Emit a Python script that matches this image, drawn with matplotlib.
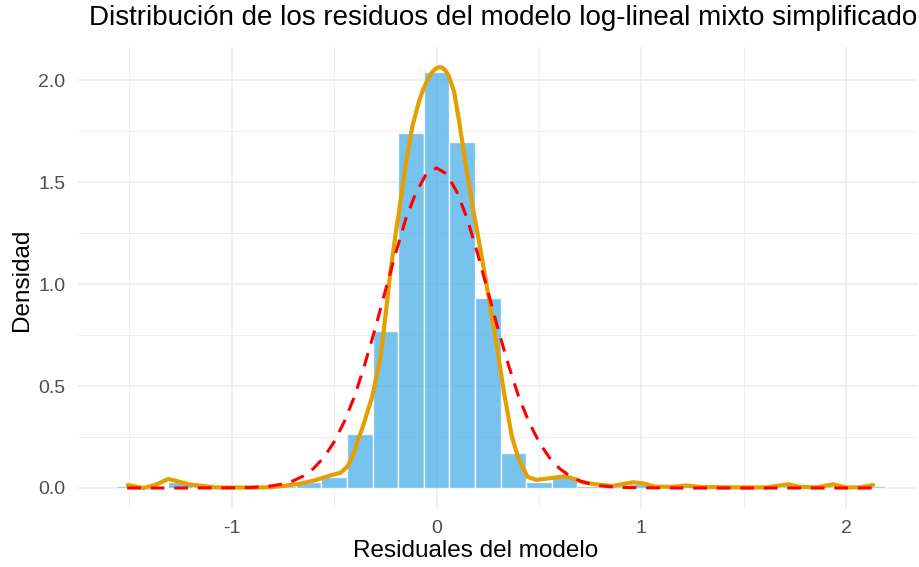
import matplotlib
matplotlib.use("Agg")
import matplotlib.pyplot as plt

plt.rcParams['font.family'] = ['Liberation Sans', 'DejaVu Sans']

# histogram (density), binwidth 0.125
bin_centers = [-1.5, -1.375, -1.25, -1.125, -1.0, -0.875, -0.75, -0.625, -0.5, -0.375,
               -0.25, -0.125, 0.0, 0.125, 0.25, 0.375, 0.5, 0.625, 0.75, 0.875,
               1.0, 1.125, 1.25, 1.375, 1.5, 1.625, 1.75, 1.875, 2.0, 2.125]
bin_density = [0.01, 0.0, 0.03, 0.01, 0.0, 0.0, 0.01, 0.03, 0.053, 0.266,
               0.77, 1.742, 2.04, 1.696, 0.93, 0.173, 0.031, 0.055, 0.01, 0.01,
               0.02, 0.0, 0.01, 0.0, 0.0, 0.0, 0.01, 0.01, 0.01, 0.01]
bin_width = 0.125

# kernel density
kde_x = [-1.507, -1.43, -1.373, -1.31, -1.267, -1.21, -1.145, -1.08, -0.95, -0.82,
         -0.74, -0.66, -0.59, -0.51, -0.468, -0.436, -0.41, -0.385, -0.36, -0.314,
         -0.273, -0.248, -0.224, -0.197, -0.183, -0.151, -0.118, -0.086, -0.065, -0.045,
         -0.025, -0.004, 0.012, 0.028, 0.045, 0.061, 0.086, 0.110, 0.143, 0.175,
         0.20, 0.232, 0.265, 0.297, 0.330, 0.368, 0.403, 0.444, 0.485, 0.53,
         0.583, 0.632, 0.672, 0.713, 0.778, 0.86, 0.957, 1.006, 1.072, 1.153,
         1.219, 1.284, 1.447, 1.61, 1.716, 1.773, 1.854, 1.935, 2.0, 2.066, 2.131]
kde_y = [0.015, 0.0, 0.015, 0.044, 0.034, 0.018, 0.011, 0.003, 0.002, 0.003,
         0.011, 0.022, 0.039, 0.064, 0.075, 0.104, 0.153, 0.23, 0.30, 0.448,
         0.644, 0.856, 1.069, 1.265, 1.354, 1.583, 1.775, 1.895, 1.955, 2.0,
         2.035, 2.057, 2.064, 2.062, 2.046, 2.018, 1.943, 1.800, 1.583, 1.387,
         1.25, 1.069, 0.873, 0.676, 0.464, 0.25, 0.137, 0.055, 0.040, 0.045,
         0.052, 0.057, 0.044, 0.028, 0.018, 0.01, 0.028, 0.023, 0.006, 0.006,
         0.012, 0.005, 0.003, 0.003, 0.018, 0.006, 0.003, 0.018, 0.003, 0.003, 0.015]

# normal reference curve
norm_x = [-1.51, -1.2, -1.0, -0.9, -0.85, -0.8, -0.75, -0.7, -0.65, -0.6, -0.55, -0.5,
          -0.45, -0.4, -0.35, -0.3, -0.25, -0.2, -0.15, -0.1, -0.05, 0.0,
          0.05, 0.1, 0.15, 0.2, 0.25, 0.3, 0.35, 0.4, 0.45, 0.5, 0.55, 0.6,
          0.65, 0.7, 0.75, 0.8, 0.85, 0.9, 1.0, 1.2, 1.6, 2.14]
norm_y = [0.0, 0.0, 0.001, 0.003, 0.006, 0.011, 0.020, 0.035, 0.059, 0.096, 0.150, 0.226,
          0.326, 0.45, 0.607, 0.78, 0.967, 1.15, 1.32, 1.45, 1.54, 1.57,
          1.54, 1.45, 1.32, 1.15, 0.967, 0.78, 0.607, 0.45, 0.326, 0.226, 0.150, 0.096,
          0.059, 0.035, 0.020, 0.011, 0.006, 0.003, 0.001, 0.0, 0.0, 0.0]

fig = plt.figure(figsize=(9.19, 5.67), dpi=100)
ax = fig.add_axes([78 / 919, 1 - 509 / 567, 840 / 919, (509 - 47) / 567])

ax.bar(bin_centers, bin_density, width=bin_width, color="#56B4E9", alpha=0.8,
       edgecolor="white", linewidth=1.0, zorder=2)
ax.plot(kde_x, kde_y, color="#E69F00", linewidth=3.0, zorder=3,
        solid_capstyle="round", solid_joinstyle="round")
ax.plot(norm_x, norm_y, color="red", linewidth=2.2, linestyle=(0, (4.5, 3.2)), zorder=4)

ax.set_xlim(-1.75, 2.35)
ax.set_ylim(-0.103, 2.163)
ax.set_xticks([-1, 0, 1, 2])
ax.set_xticklabels(["-1", "0", "1", "2"])
ax.set_yticks([0.0, 0.5, 1.0, 1.5, 2.0])
ax.set_yticklabels(["0.0", "0.5", "1.0", "1.5", "2.0"])
ax.set_xticks([-1.5, -0.5, 0.5, 1.5], minor=True)
ax.set_yticks([0.25, 0.75, 1.25, 1.75], minor=True)

ax.grid(which="major", color="#EBEBEB", linewidth=1.1, zorder=0)
ax.grid(which="minor", color="#EBEBEB", linewidth=0.55, zorder=0)
ax.set_axisbelow(True)
for s in ax.spines.values():
    s.set_visible(False)
ax.tick_params(which="both", length=0, labelsize=14, labelcolor="#4D4D4D")
ax.tick_params(axis="y", pad=9)
ax.tick_params(axis="x", pad=8)

ax.set_xlabel("Residuales del modelo", fontsize=17.5, color="black")
ax.set_ylabel("Densidad", fontsize=17.5, color="black")
ax.xaxis.set_label_coords((476 - 78) / 840, -(551 - 509) / 462, transform=ax.transAxes)
ax.yaxis.set_label_coords(-(78 - 22) / 840, (509 - 280) / 462, transform=ax.transAxes)
ax.xaxis.label.set_va("center")
ax.yaxis.label.set_va("center")
fig.text(503 / 919, 1 - 18 / 567, "Distribución de los residuos del modelo log-lineal mixto simplificado",
         fontsize=20, color="black", ha="center", va="center")

fig.savefig("out.png", dpi=100)
